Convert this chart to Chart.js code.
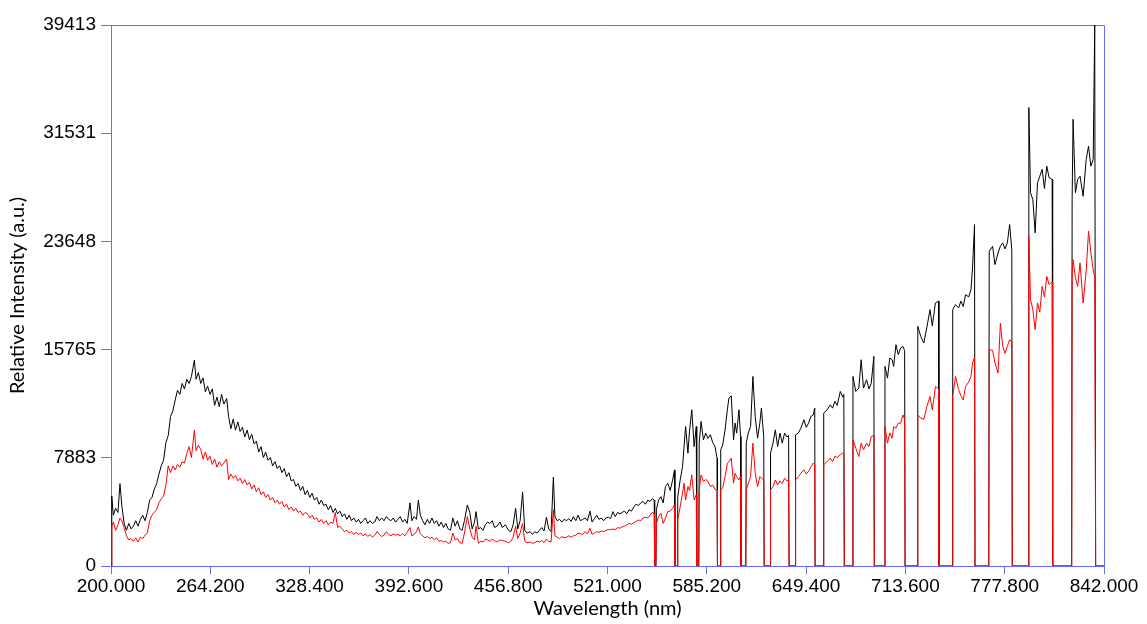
<!DOCTYPE html>
<html>
<head>
<meta charset="utf-8">
<title>Spectrum</title>
<script src="https://cdn.jsdelivr.net/npm/chart.js@4.4.0/dist/chart.umd.min.js"></script>
<style>
  html, body { margin: 0; padding: 0; background: #fff; }
</style>
</head>
<body>
<canvas id="chartSpec" width="1147" height="624"></canvas>
<script>
// wavelength (nm) of each sample
const wavelength = [
  200.0, 200.5, 201.5, 203.0, 204.5, 205.8, 207.0, 208.5, 210.0, 211.5,
  213.0, 214.5, 216.0, 217.5, 219.0, 220.5, 222.0, 223.5, 225.0, 226.5,
  228.0, 229.5, 231.0, 232.5, 234.0, 235.5, 237.0, 238.5, 240.0, 241.5,
  243.0, 244.5, 246.0, 247.5, 249.0, 250.5, 252.0, 253.9, 255.0, 256.5,
  258.0, 259.5, 261.0, 262.5, 264.0, 265.5, 267.0, 268.5, 270.0, 271.5,
  273.0, 274.8, 276.0, 277.5, 279.0, 280.5, 282.0, 283.5, 285.0, 286.5,
  288.0, 289.5, 291.0, 292.5, 294.0, 295.5, 297.0, 298.5, 300.0, 301.5,
  303.0, 304.5, 306.0, 307.5, 309.0, 310.5, 312.0, 313.5, 315.0, 316.5,
  318.0, 319.5, 321.0, 322.5, 324.0, 325.5, 327.0, 328.5, 330.0, 331.5,
  333.0, 334.5, 336.0, 337.5, 339.0, 340.5, 342.0, 343.5, 345.0, 346.5,
  348.0, 349.5, 351.0, 352.5, 354.0, 355.5, 357.0, 358.5, 360.0, 361.5,
  363.0, 364.5, 366.0, 367.5, 369.0, 370.5, 372.0, 373.5, 375.0, 376.5,
  378.0, 379.5, 381.0, 382.5, 384.0, 385.5, 387.0, 388.5, 390.0, 391.5,
  393.3, 394.5, 396.0, 397.5, 398.7, 400.0, 401.5, 403.0, 404.5, 406.0,
  407.5, 409.0, 410.5, 412.0, 413.5, 415.0, 416.5, 418.0, 419.5, 421.0,
  422.5, 424.0, 425.5, 427.0, 428.5, 430.4, 432.0, 433.5, 435.0, 436.0,
  437.5, 439.0, 440.5, 442.0, 443.5, 445.0, 446.5, 448.0, 449.5, 451.5,
  453.0, 455.0, 457.0, 458.5, 460.0, 461.6, 463.0, 464.5, 466.1, 467.5,
  469.0, 471.0, 472.5, 474.0, 475.5, 477.0, 478.5, 480.0, 481.5, 483.0,
  484.5, 486.0, 487.0, 488.5, 490.0, 491.5, 493.0, 494.5, 496.0, 497.5,
  499.0, 500.5, 502.0, 503.5, 505.0, 506.5, 508.0, 509.7, 511.0, 512.5,
  514.0, 515.5, 517.0, 518.5, 520.0, 521.5, 523.0, 524.5, 526.0, 527.5,
  529.0, 530.5, 532.0, 533.5, 535.0, 536.5, 538.0, 539.5, 541.0, 542.5,
  544.0, 545.5, 547.0, 548.5, 550.0, 551.2, 551.5, 552.3, 552.6, 554.0,
  555.5, 557.0, 558.5, 560.0, 561.5, 563.0, 564.3, 564.6, 566.1, 566.4,
  568.0, 569.5, 570.5, 571.5, 573.0, 574.0, 575.5, 577.0, 578.4, 578.7,
  580.0, 580.3, 581.5, 583.0, 584.5, 586.0, 587.5, 589.0, 590.5, 591.8,
  592.1, 593.9, 594.2, 595.5, 597.0, 598.5, 599.5, 601.0, 602.5, 603.5,
  604.5, 606.0, 607.0, 607.3, 610.4, 610.7, 612.0, 613.5, 615.0, 616.5,
  618.0, 619.5, 620.5, 622.0, 622.3, 626.1, 626.4, 628.0, 629.5, 631.0,
  632.5, 634.0, 635.5, 637.0, 638.1, 638.4, 642.3, 642.6, 644.5, 646.0,
  648.0, 649.5, 651.0, 652.5, 654.0, 655.0, 655.2, 660.5, 660.8, 663.0,
  665.0, 666.5, 668.0, 669.5, 671.5, 673.0, 673.8, 674.1, 679.4, 679.7,
  681.5, 683.5, 685.0, 686.5, 688.5, 690.0, 691.5, 693.2, 693.5, 700.1,
  700.4, 702.0, 703.5, 705.0, 706.0, 707.5, 709.0, 710.5, 712.0, 713.1,
  713.4, 721.3, 721.6, 723.5, 725.5, 727.5, 729.5, 731.0, 733.0, 735.0,
  735.3, 743.9, 744.2, 746.0, 748.0, 749.5, 751.0, 752.5, 754.5, 756.0,
  757.0, 758.3, 758.6, 767.5, 767.8, 770.0, 771.5, 773.5, 775.0, 776.5,
  778.0, 779.5, 781.0, 782.4, 782.7, 793.1, 793.4, 794.5, 796.0, 797.5,
  799.0, 800.5, 802.0, 803.5, 805.0, 806.5, 808.5, 808.8, 821.1, 821.4,
  822.0, 823.5, 825.0, 826.5, 828.5, 830.5, 832.0, 833.5, 835.0, 836.0,
  836.6, 842.0
];

// black trace
const intensityBlack = [
  0, 5100, 3700, 4200, 3900, 6000, 4400, 3100, 2600, 3100,
  2700, 2900, 3300, 2900, 3400, 3700, 3300, 3900, 4800, 5000,
  5600, 6000, 6700, 7300, 7700, 9000, 9500, 10900, 11300, 12100,
  12800, 12500, 13300, 12900, 13600, 13300, 13800, 15000, 13600, 14100,
  13300, 13700, 12700, 13100, 12500, 12900, 11700, 12300, 11600, 12500,
  11800, 12200, 10900, 10000, 10700, 9900, 10500, 9800, 10100, 9400,
  9900, 9200, 9600, 8900, 9100, 8300, 8700, 7900, 8300, 7700,
  7900, 7300, 7600, 7100, 7300, 6800, 7100, 6500, 6800, 6200,
  6300, 5800, 6000, 5500, 5800, 5200, 5500, 5000, 5300, 4800,
  5000, 4500, 4800, 4400, 4500, 4100, 4400, 3900, 4200, 3800,
  4000, 3600, 3800, 3400, 3700, 3300, 3500, 3200, 3400, 3100,
  3300, 3500, 3100, 3300, 3100, 3200, 3600, 3300, 3500, 3300,
  3600, 3400, 3300, 3500, 3200, 3400, 3600, 3200, 3400, 3100,
  4600, 3300, 3600, 3400, 4800, 3700, 3300, 3000, 3400, 3100,
  3500, 3100, 3300, 2900, 3200, 2800, 3100, 2700, 2600, 3500,
  2900, 3300, 2700, 2600, 3300, 4450, 3900, 2700, 3200, 3960,
  2700, 2800, 2600, 3000, 3200, 3100, 3300, 2800, 2900, 3200,
  2800, 3000, 2600, 2500, 3000, 4200, 2700, 3300, 5400, 2600,
  2400, 2500, 2300, 2500, 2400, 2600, 2800, 2550, 3550, 2700,
  2500, 6470, 3600, 3300, 3400, 3200, 3400, 3300, 3450, 3250,
  3600, 3300, 3700, 3300, 3400, 3500, 3300, 4000, 3200, 3450,
  3700, 3400, 3500, 3300, 3500, 3550, 3450, 3960, 3600, 3900,
  3800, 3900, 4000, 3800, 4100, 4000, 4300, 4500, 4400, 4600,
  4700, 4500, 4800, 4700, 4900, 4800, 0, 0, 4100, 4800,
  5050, 4600, 5800, 6030, 5500, 6200, 7000, 0, 0, 5050,
  6270, 7240, 8700, 10160, 8220, 9800, 11380, 8700, 10160, 0,
  0, 8950, 10530, 9190, 9680, 9300, 9560, 9000, 8700, 7860,
  0, 0, 8460, 8830, 9920, 11380, 12230, 12400, 9190, 10410,
  9680, 11380, 9430, 0, 0, 8950, 9680, 10160, 13810, 10890,
  9310, 10410, 11500, 9430, 0, 0, 8220, 8950, 9920, 8700,
  9680, 8950, 9680, 9400, 9500, 0, 0, 9560, 9700, 10040,
  10650, 10100, 10410, 10890, 11000, 11500, 0, 0, 11140, 11380,
  11745, 11500, 11990, 11700, 12720, 12300, 12500, 0, 0, 13810,
  12720, 12960, 15030, 12960, 13570, 12900, 13300, 15270, 0, 0,
  14540, 13690, 15150, 15030, 14540, 16120, 15400, 15880, 16000, 15700,
  0, 0, 17460, 16730, 16240, 17400, 18675, 17500, 19160, 19300,
  0, 0, 18675, 19040, 18800, 19300, 18900, 19770, 19600, 20130,
  21720, 24875, 0, 0, 22930, 23290, 21960, 22800, 23300, 23540,
  23100, 23540, 24875, 23000, 0, 0, 33400, 27190, 26700, 24270,
  27920, 28400, 28890, 27500, 29130, 28300, 28160, 0, 0, 26700,
  32540, 27200, 28160, 28400, 26940, 29620, 30590, 29130, 29600, 39413,
  0, 0
];

// red trace
const intensityRed = [
  0, 2900, 3200, 2600, 3000, 3500, 3300, 2800, 2200, 1900,
  2000, 1800, 2050, 1750, 2100, 2000, 2250, 2400, 3300, 3700,
  3900, 4100, 4600, 4900, 5100, 5900, 7300, 6800, 7300, 7000,
  7400, 7200, 7600, 7500, 8200, 8700, 7900, 9900, 8400, 8800,
  8500, 7800, 8300, 7700, 8000, 7400, 7800, 7200, 7600, 7300,
  7500, 7800, 6300, 6700, 6400, 6600, 6200, 6400, 6000, 6300,
  5900, 6100, 5600, 5900, 5400, 5700, 5200, 5400, 5000, 5200,
  4800, 5000, 4600, 4800, 4500, 4700, 4300, 4500, 4100, 4300,
  4000, 4200, 3900, 4000, 3700, 3900, 3800, 3500, 3700, 3400,
  3500, 3200, 3400, 3100, 3300, 3000, 3200, 3100, 3900, 2800,
  2900, 2700, 2500, 2600, 2400, 2500, 2300, 2450, 2300, 2400,
  2200, 2350, 2150, 2300, 2100, 2250, 2500, 2300, 2150, 2250,
  2500, 2300, 2200, 2350, 2250, 2300, 2200, 2350, 2200, 2450,
  2800, 2200, 2300, 2500, 2850, 2350, 2200, 2050, 2150, 2000,
  2100, 1900, 2050, 1800, 1850, 1750, 1800, 1650, 1700, 2400,
  1900, 2000, 1700, 1650, 2400, 3600, 2700, 2100, 1900, 2900,
  1650, 1800, 1750, 1950, 1900, 1800, 1950, 1850, 1750, 1900,
  1850, 1800, 1700, 1800, 2100, 2900, 2000, 2400, 3100, 1800,
  1700, 1750, 1650, 1700, 1800, 1750, 1850, 1700, 1950, 1800,
  1750, 4100, 2200, 2100, 2000, 2150, 2050, 2100, 2200, 2100,
  2200, 2250, 2400, 2350, 2300, 2500, 2350, 2750, 2300, 2400,
  2500, 2450, 2550, 2500, 2600, 2650, 2650, 2700, 2650, 2800,
  2750, 2850, 2900, 3000, 3100, 3050, 3150, 3250, 3350, 3300,
  3500, 3550, 3500, 3700, 3900, 3800, 0, 0, 3100, 3600,
  3850, 3100, 3500, 3960, 4000, 4200, 4450, 0, 0, 3350,
  4330, 5300, 6030, 4815, 5785, 5500, 6640, 4815, 5200, 0,
  0, 5545, 6640, 6150, 6300, 6150, 5785, 5900, 5600, 5545,
  0, 0, 5545, 5700, 6515, 7490, 7600, 7860, 6030, 6760,
  6500, 6270, 6515, 0, 0, 5545, 6000, 6515, 8950, 6760,
  5785, 6515, 6400, 6270, 0, 0, 5545, 5785, 6270, 5900,
  6200, 6000, 6400, 6200, 6300, 0, 0, 6270, 6515, 6760,
  7000, 6700, 6900, 7200, 7490, 7400, 0, 0, 7370, 7610,
  7860, 7600, 8000, 7900, 8100, 8220, 8200, 0, 0, 9190,
  8580, 7970, 8950, 8460, 8950, 8700, 9430, 9500, 0, 0,
  10160, 8950, 9700, 9310, 10160, 10040, 10410, 10400, 11010, 10700,
  0, 0, 11010, 10770, 10700, 11620, 12350, 11380, 13080, 12900,
  0, 0, 12350, 13810, 12840, 12400, 12110, 13080, 13400, 13800,
  14790, 15200, 0, 0, 15760, 15700, 14790, 14060, 17700, 16000,
  15500, 16000, 16490, 16300, 0, 0, 24000, 19400, 18675, 17220,
  19160, 18500, 20370, 19600, 21100, 20500, 20700, 0, 0, 21350,
  22320, 21000, 20370, 22080, 19160, 21500, 24400, 22810, 21590, 21000,
  0, 0
];

const xTicks = [200, 264.2, 328.4, 392.6, 456.8, 521, 585.2, 649.4, 713.6, 777.8, 842];
const yTicks = [0, 7883, 15765, 23648, 31531, 39413];

const axisBlue = "#6a6aff";
const tickFont = { family: "'Liberation Sans', Arial, sans-serif", size: 19 };
const titleFont = { family: "Lato, 'Open Sans', sans-serif", size: 20 };

const toPoints = (vals) => vals.map((v, i) => ({ x: wavelength[i], y: v }));

// top and right edges of the frame
const frameBox = {
  id: "frameBox",
  beforeDatasetsDraw(chart) {
    const { ctx, chartArea: a } = chart;
    ctx.save();
    ctx.strokeStyle = axisBlue;
    ctx.lineWidth = 1;
    ctx.beginPath();
    ctx.moveTo(a.left, a.top + 0.5);
    ctx.lineTo(a.right + 0.5, a.top + 0.5);
    ctx.lineTo(a.right + 0.5, a.bottom);
    ctx.stroke();
    ctx.restore();
  }
};

new Chart(document.getElementById("chartSpec"), {
  type: "line",
  data: {
    datasets: [
      {
        label: "red",
        data: toPoints(intensityRed),
        borderColor: "#ff0000",
        borderWidth: 1,
        pointRadius: 0,
        tension: 0,
        order: 0
      },
      {
        label: "black",
        data: toPoints(intensityBlack),
        borderColor: "#000000",
        borderWidth: 1,
        pointRadius: 0,
        tension: 0,
        order: 1
      }
    ]
  },
  options: {
    responsive: false,
    animation: false,
    layout: { padding: { top: 25, right: 43, left: 0, bottom: 0 } },
    plugins: {
      legend: { display: false },
      tooltip: { enabled: false }
    },
    scales: {
      x: {
        type: "linear",
        min: 200,
        max: 842,
        afterBuildTicks: (s) => { s.ticks = xTicks.map((v) => ({ value: v })); },
        afterFit: (s) => { s.height = 58; },
        ticks: {
          callback: (v) => Number(v).toFixed(3),
          font: tickFont,
          color: "#000",
          padding: 1,
          maxRotation: 0,
          autoSkip: false
        },
        grid: { drawOnChartArea: false, drawTicks: true, tickLength: 8, color: axisBlue },
        border: { display: true, color: axisBlue },
        title: { display: true, text: "Wavelength (nm)", font: titleFont, color: "#000", padding: { top: 0, bottom: 3 } }
      },
      y: {
        type: "linear",
        min: 0,
        max: 39413,
        afterBuildTicks: (s) => { s.ticks = yTicks.map((v) => ({ value: v })); },
        afterFit: (s) => { s.width = 111; },
        ticks: {
          callback: (v) => String(v),
          font: tickFont,
          color: "#000",
          padding: 5
        },
        grid: { drawOnChartArea: false, drawTicks: true, tickLength: 10, color: axisBlue },
        border: { display: true, color: axisBlue },
        title: { display: true, text: "Relative Intensity (a.u.)", font: titleFont, color: "#000", padding: { top: 6, bottom: 0 } }
      }
    }
  },
  plugins: [frameBox]
});
</script>
</body>
</html>
